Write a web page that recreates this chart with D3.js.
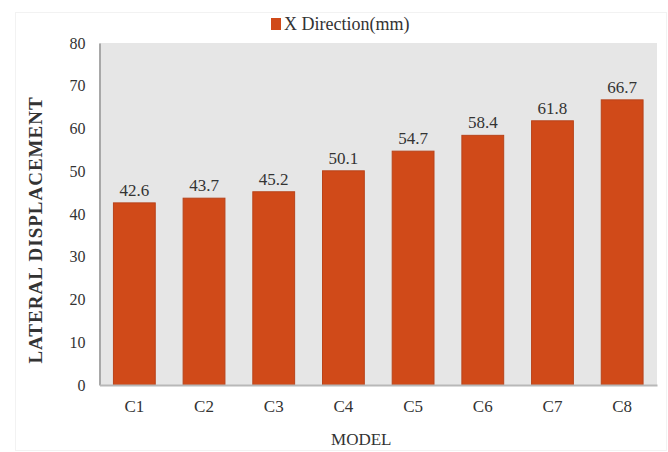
<!DOCTYPE html>
<html>
<head>
<meta charset="utf-8">
<script src="https://cdn.jsdelivr.net/npm/d3@7"></script>
<style>
  html, body { margin: 0; padding: 0; background: #fff; }
  svg { display: block; }
  text { font-family: "Liberation Serif", "Times New Roman", serif; }
</style>
</head>
<body>
<svg id="chart" width="668" height="452"></svg>
<script>
// Lateral displacement per model, X direction (mm)
const categories = ["C1", "C2", "C3", "C4", "C5", "C6", "C7", "C8"];
const xDirection = [42.6, 43.7, 45.2, 50.1, 54.7, 58.4, 61.8, 66.7];
const yTicks = [0, 10, 20, 30, 40, 50, 60, 70, 80];
const seriesName = "X Direction(mm)";
const xTitle = "MODEL";
const yTitle = "LATERAL DISPLACEMENT";

const svg = d3.select("#chart");
const W = 668, H = 452;
const plot = { left: 99.5, right: 657, top: 43, bottom: 385 };
const barColor = "#d04a19";
const serif = '"Liberation Serif", "Times New Roman", serif';

// faint outer frame
svg.append("rect")
  .attr("x", 15.5).attr("y", 12.5)
  .attr("width", W - 17).attr("height", H - 14)
  .attr("fill", "none").attr("stroke", "#f2f2f2").attr("stroke-width", 1);

const x = d3.scaleBand()
  .domain(categories)
  .range([plot.left, plot.right])
  .paddingInner(0.4)
  .paddingOuter(0.2);

const y = d3.scaleLinear()
  .domain([0, 80])
  .range([plot.bottom, plot.top]);

// plot background
svg.append("rect")
  .attr("x", plot.left).attr("y", plot.top)
  .attr("width", plot.right - plot.left)
  .attr("height", plot.bottom - plot.top)
  .attr("fill", "#e6e6e6");

// bars
svg.append("g").selectAll("rect")
  .data(categories)
  .join("rect")
  .attr("x", d => x(d))
  .attr("y", (d, i) => y(xDirection[i]))
  .attr("width", x.bandwidth())
  .attr("height", (d, i) => y(0) - y(xDirection[i]))
  .attr("fill", barColor)
  .attr("stroke", "#b8431a")
  .attr("stroke-width", 1);

// value labels
svg.append("g").selectAll("text")
  .data(categories)
  .join("text")
  .attr("x", d => x(d) + x.bandwidth() / 2)
  .attr("y", (d, i) => y(xDirection[i]) - 7)
  .attr("text-anchor", "middle")
  .attr("font-size", 17)
  .attr("font-family", serif)
  .attr("fill", "#333")
  .text((d, i) => xDirection[i].toFixed(1));

// y axis
const yAxis = svg.append("g")
  .attr("transform", `translate(${plot.left},0)`)
  .call(d3.axisLeft(y).tickValues(yTicks).tickSize(0).tickPadding(14));
yAxis.attr("font-family", serif);
yAxis.select(".domain").attr("stroke", "#a8a8a8").attr("stroke-width", 2);
yAxis.selectAll("text").attr("font-size", 16).attr("fill", "#333");

// x axis
const xAxis = svg.append("g")
  .attr("transform", `translate(0,${plot.bottom})`)
  .call(d3.axisBottom(x).tickSize(0).tickPadding(15));
xAxis.attr("font-family", serif);
xAxis.select(".domain").attr("stroke", "#b8b8b8").attr("stroke-width", 2);
xAxis.selectAll("text").attr("font-size", 17).attr("fill", "#333");

// axis titles
svg.append("text")
  .attr("x", (plot.left + plot.right) / 2 - 17)
  .attr("y", 445)
  .attr("text-anchor", "middle")
  .attr("font-size", 17)
  .attr("fill", "#333")
  .text(xTitle);

svg.append("text")
  .attr("transform", `translate(42,${(plot.top + plot.bottom) / 2 + 16}) rotate(-90)`)
  .attr("text-anchor", "middle")
  .attr("font-size", 19)
  .attr("letter-spacing", 1)
  .attr("font-weight", "bold")
  .attr("fill", "#333")
  .text(yTitle);

// legend
const legend = svg.append("g").attr("transform", "translate(271,18)");
legend.append("rect")
  .attr("width", 10).attr("height", 12)
  .attr("fill", barColor);
legend.append("text")
  .attr("x", 13).attr("y", 12)
  .attr("font-size", 18)
  .attr("fill", "#333")
  .text(seriesName);
</script>
</body>
</html>
